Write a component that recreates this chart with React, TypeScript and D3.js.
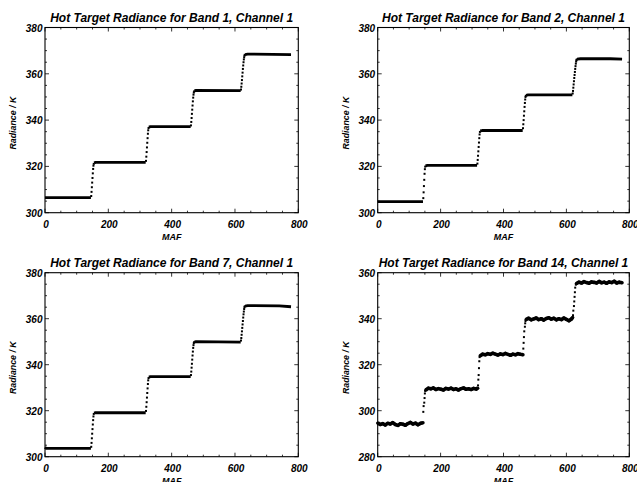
import React from 'react';
import * as d3 from 'd3';

// ---------- data ----------
const titles = [
  'Hot Target Radiance for Band 1, Channel 1',
  'Hot Target Radiance for Band 2, Channel 1',
  'Hot Target Radiance for Band 7, Channel 1',
  'Hot Target Radiance for Band 14, Channel 1',
];
const xLabel = 'MAF';
const yLabel = 'Radiance / K';
const xTicks = [0, 200, 400, 600, 800];
const yTicksA = [300, 320, 340, 360, 380];
const yTicksB = [280, 300, 320, 340, 360];
const xDomain = [0, 800];
const yDomainA = [300, 380];
const yDomainB = [280, 360];

// plateau segments [MAF, radiance]
const band1Plateaus = [
  [[0, 306.5], [145, 306.5]],
  [[155, 321.5], [160, 321.7], [318, 321.7]],
  [[328, 337.0], [333, 337.2], [460, 337.2]],
  [[472, 352.6], [477, 352.8], [618, 352.7]],
  [[632, 368.3], [640, 368.5], [777, 368.3]],
];
const band1Steps = [
  [146, 307.2], [147, 309.0], [148, 311.0], [149, 313.0], [150, 315.0], [151, 317.0], [152, 318.9], [153, 320.3], [154, 321.1],
  [319, 322.4], [320, 324.2], [321, 326.2], [322, 328.2], [323, 330.2], [324, 332.2], [325, 334.1], [326, 335.6], [327, 336.6],
  [461, 337.7], [462, 339.2], [463, 340.9], [464, 342.7], [465, 344.5], [466, 346.3], [467, 348.1], [468, 349.7], [469, 351.0], [470, 351.9], [471, 352.4],
  [619, 353.2], [620, 354.4], [621, 355.8], [622, 357.3], [623, 358.9], [624, 360.5], [625, 362.1], [626, 363.6], [627, 365.0], [628, 366.2], [629, 367.1], [630, 367.8], [631, 368.2],
];

const band2Plateaus = [
  [[0, 304.8], [144, 304.8]],
  [[152, 320.2], [158, 320.4], [316, 320.4]],
  [[326, 335.3], [332, 335.5], [461, 335.5]],
  [[472, 350.7], [478, 350.9], [619, 350.9]],
  [[634, 366.3], [645, 366.5], [740, 366.5], [777, 366.3]],
];
const band2Steps = [
  [145, 306.3], [146, 308.8], [147, 311.5], [148, 314.2], [149, 316.8], [150, 318.8], [151, 319.9],
  [317, 321.2], [318, 322.8], [319, 324.6], [320, 326.5], [321, 328.4], [322, 330.3], [323, 332.2], [324, 333.8], [325, 334.9],
  [462, 336.5], [463, 338.2], [464, 340.0], [465, 341.9], [466, 343.8], [467, 345.7], [468, 347.4], [469, 348.9], [470, 350.0], [471, 350.5],
  [620, 351.5], [621, 352.6], [622, 354.0], [623, 355.4], [624, 356.8], [625, 358.2], [626, 359.5], [627, 360.8], [628, 362.1], [629, 363.3], [630, 364.4], [631, 365.3], [632, 365.9], [633, 366.2],
];

const band7Plateaus = [
  [[0, 304.1], [4, 303.6], [145, 303.6]],
  [[155, 319.0], [160, 319.2], [318, 319.1]],
  [[328, 334.6], [333, 334.8], [460, 334.8]],
  [[472, 349.8], [477, 350.0], [618, 349.8]],
  [[632, 365.5], [640, 365.7], [740, 365.6], [777, 365.2]],
];
const band7Steps = [
  [146, 304.3], [147, 306.0], [148, 308.0], [149, 310.0], [150, 312.0], [151, 314.0], [152, 315.9], [153, 317.5], [154, 318.6],
  [319, 319.9], [320, 321.7], [321, 323.7], [322, 325.7], [323, 327.7], [324, 329.7], [325, 331.6], [326, 333.2], [327, 334.2],
  [461, 335.5], [462, 337.0], [463, 338.7], [464, 340.4], [465, 342.2], [466, 344.0], [467, 345.7], [468, 347.3], [469, 348.5], [470, 349.4], [471, 349.8],
  [619, 350.5], [620, 351.6], [621, 353.0], [622, 354.5], [623, 356.0], [624, 357.5], [625, 359.0], [626, 360.5], [627, 361.9], [628, 363.1], [629, 364.2], [630, 365.0], [631, 365.4],
];

const band14Plateaus = [
  [[0, 294.6], [8, 294.0], [16, 294.4], [24, 293.8], [32, 294.5], [40, 294.2], [48, 294.8], [56, 294.0], [64, 293.6], [72, 294.3], [80, 294.1], [88, 293.7], [96, 294.4], [104, 294.9], [112, 294.2], [120, 294.6], [128, 293.9], [136, 294.5], [144, 294.8]],
  [[153, 309.0], [161, 309.8], [169, 309.5], [177, 309.9], [185, 309.2], [193, 309.6], [201, 309.3], [209, 309.0], [217, 309.7], [225, 309.4], [233, 309.8], [241, 309.2], [249, 309.5], [257, 309.0], [265, 309.6], [273, 309.9], [281, 309.3], [289, 309.5], [297, 309.2], [305, 309.7], [313, 309.4], [318, 309.8]],
  [[326, 323.9], [334, 324.6], [342, 324.3], [350, 324.8], [358, 324.5], [366, 325.0], [374, 324.6], [382, 324.2], [390, 324.7], [398, 324.4], [406, 324.9], [414, 324.5], [422, 324.1], [430, 324.6], [438, 324.3], [446, 324.8], [454, 324.5], [462, 324.3]],
  [[472, 339.7], [480, 340.2], [488, 339.5], [496, 339.9], [504, 340.3], [512, 339.6], [520, 340.0], [528, 339.4], [536, 340.1], [544, 340.4], [552, 339.8], [560, 340.2], [568, 339.5], [576, 340.0], [584, 339.6], [592, 340.3], [600, 339.7], [608, 339.1], [616, 339.9], [620, 340.5]],
  [[632, 355.3], [640, 355.9], [648, 355.5], [656, 356.1], [664, 355.7], [672, 355.4], [680, 356.0], [688, 355.8], [696, 355.5], [704, 356.2], [712, 355.6], [720, 355.9], [728, 355.4], [736, 356.0], [744, 355.7], [752, 356.3], [760, 355.5], [768, 355.9], [777, 355.6]],
];
const band14Steps = [
  [145, 299.5], [146, 302.0], [148, 303.5], [149, 305.5], [150, 307.5], [151, 308.6],
  [319, 311.0], [320, 313.5], [321, 315.5], [322, 318.5], [323, 321.5], [324, 323.3],
  [463, 327.0], [464, 329.5], [465, 332.0], [466, 334.5], [468, 336.5], [469, 338.0], [470, 339.0],
  [621, 341.5], [622, 343.5], [624, 345.5], [625, 347.5], [626, 349.5], [627, 351.5], [628, 353.5], [630, 354.8],
];

// ---------- layout ----------
const W = 637;
const H = 482;
const boxes = [
  { left: 45, right: 298.3, top: 27.5, bottom: 212.7 },
  { left: 377.7, right: 629.3, top: 27.5, bottom: 212.7 },
  { left: 45, right: 298.3, top: 272.7, bottom: 456.7 },
  { left: 377.7, right: 629.3, top: 272.7, bottom: 456.7 },
];
const panels = [
  { plateaus: band1Plateaus, steps: band1Steps, yDomain: yDomainA, yTicks: yTicksA, noisy: false },
  { plateaus: band2Plateaus, steps: band2Steps, yDomain: yDomainA, yTicks: yTicksA, noisy: false },
  { plateaus: band7Plateaus, steps: band7Steps, yDomain: yDomainA, yTicks: yTicksA, noisy: false },
  { plateaus: band14Plateaus, steps: band14Steps, yDomain: yDomainB, yTicks: yTicksB, noisy: true },
];

const FONT = '"Liberation Sans", Arial, Helvetica, sans-serif';

function Panel({ idx }: { idx: number }) {
  const b = boxes[idx];
  const p = panels[idx];
  const x = d3.scaleLinear().domain(xDomain).range([b.left, b.right]);
  const y = d3.scaleLinear().domain(p.yDomain).range([b.bottom, b.top]);
  const line = d3
    .line<number[]>()
    .x((d) => x(d[0]))
    .y((d) => y(d[1]));
  const xMinor = d3.range(xDomain[0], xDomain[1] + 1, 50);
  const yMinor = d3.range(p.yDomain[0], p.yDomain[1] + 0.1, 5);
  const cx = (b.left + b.right) / 2;
  const cy = (b.top + b.bottom) / 2;
  return (
    <g>
      {/* ticks */}
      {xMinor.map((v) => {
        const major = v % 200 === 0;
        const len = major ? 4 : 2;
        return (
          <g key={'xt' + v}>
            <line x1={x(v)} x2={x(v)} y1={b.bottom} y2={b.bottom - len} stroke="#000" strokeWidth={0.8} />
            <line x1={x(v)} x2={x(v)} y1={b.top} y2={b.top + len} stroke="#000" strokeWidth={0.8} />
          </g>
        );
      })}
      {yMinor.map((v) => {
        const major = (v - p.yDomain[0]) % 20 === 0;
        const len = major ? 4 : 2;
        return (
          <g key={'yt' + v}>
            <line x1={b.left} x2={b.left + len} y1={y(v)} y2={y(v)} stroke="#000" strokeWidth={0.8} />
            <line x1={b.right} x2={b.right - len} y1={y(v)} y2={y(v)} stroke="#000" strokeWidth={0.8} />
          </g>
        );
      })}
      {/* frame */}
      <rect x={b.left} y={b.top} width={b.right - b.left} height={b.bottom - b.top} fill="none" stroke="#000" strokeWidth={1.1} />
      {/* tick labels */}
      {xTicks.map((v) => (
        <text key={'xl' + v} x={x(v) + 1} y={b.bottom + 15.5} textAnchor="middle" fontSize={10} fontWeight="bold" fontStyle="italic" fontFamily={FONT}>
          {v}
        </text>
      ))}
      {p.yTicks.map((v) => (
        <text key={'yl' + v} x={b.left - 2.5} y={y(v) + 4} textAnchor="end" fontSize={10} fontWeight="bold" fontStyle="italic" fontFamily={FONT}>
          {v}
        </text>
      ))}
      {/* axis titles */}
      <text x={cx} y={b.bottom + 27} textAnchor="middle" fontSize={9} fontWeight="bold" fontStyle="italic" fontFamily={FONT}>
        {xLabel}
      </text>
      <text
        transform={`translate(${b.left - 29},${cy + 3}) rotate(-90)`}
        textAnchor="middle"
        fontSize={8.8}
        fontWeight="bold"
        fontStyle="italic"
        fontFamily={FONT}
      >
        {yLabel}
      </text>
      <text x={cx} y={b.top - 5.5} textAnchor="middle" fontSize={12} fontWeight="bold" fontStyle="italic" fontFamily={FONT}>
        {titles[idx]}
      </text>
      {/* data */}
      {p.plateaus.map((seg, i) => (
        <path
          key={'pl' + i}
          d={line(seg as number[][]) || ''}
          fill="none"
          stroke="#000"
          strokeWidth={p.noisy ? 3.6 : 2.8}
          strokeLinejoin="round"
        />
      ))}
      {p.noisy &&
        p.plateaus.flat().map((d, i) => (
          <circle key={'pp' + i} cx={x(d[0])} cy={y(d[1])} r={1.7} fill="#000" />
        ))}
      {p.steps.map((d, i) => (
        <rect key={'st' + i} x={x(d[0]) - 1} y={y(d[1]) - 1} width={2} height={2} fill="#000" />
      ))}
    </g>
  );
}

export default function App() {
  return (
    <svg width={W} height={H} style={{ position: 'absolute', left: 0, top: 0, background: '#fff' }}>
      <rect x={0} y={0} width={W} height={H} fill="#fff" />
      {boxes.map((_, i) => (
        <Panel key={i} idx={i} />
      ))}
    </svg>
  );
}
